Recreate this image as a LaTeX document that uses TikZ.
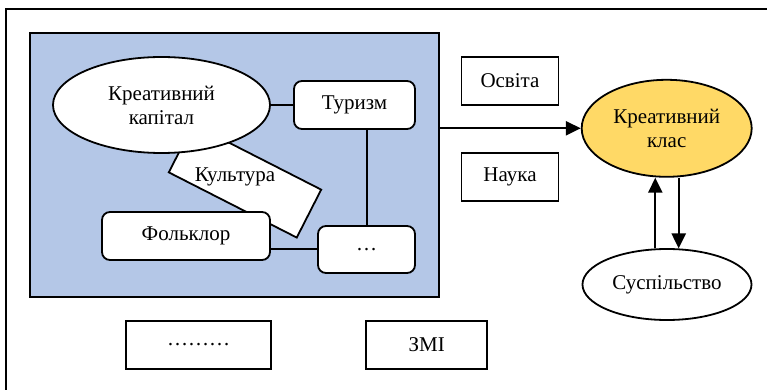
\documentclass[tikz,border=0pt]{standalone}
\usepackage{fontspec}
\setmainfont{Liberation Serif}
\usepackage{xcolor}
\usetikzlibrary{shapes,arrows.meta,positioning}

\definecolor{clusterblue}{HTML}{B4C7E7}
\definecolor{classgold}{HTML}{FFD966}

\begin{document}
\begin{tikzpicture}[
    x=0.5pt, y=-0.5pt,
    font=\rmfamily\fontsize{10.5}{12}\selectfont,
    box/.style={draw, rectangle, fill=white, line width=0.9pt, minimum width=48.5pt, minimum height=24pt, align=center},
    rbox/.style={box, rounded corners=4pt},
    oval/.style={draw, ellipse, fill=white, line width=0.9pt, inner sep=0pt, align=center},
    link/.style={line width=1pt},
    arrow/.style={-{Triangle[length=7.5pt,width=7pt]}, line width=1.2pt}
]
\useasboundingbox (0,0) rectangle (767,390);
\clip (0,0) rectangle (767,390);

% outer frame, runs past the right and bottom edges
\draw[line width=1pt] (6,9) rectangle (800,420);

% creative capital cluster
\node[draw, fill=clusterblue, line width=0.9pt, inner sep=0pt, minimum width=204.5pt, minimum height=132pt] (cluster) at (234.5,165) {};

\node[box, rotate=-27, minimum width=71.8pt, minimum height=26.9pt] (cult) at (245,181) {};
\node (cultlabel) at (235,177) {Культура};

\node[oval, minimum width=108.5pt, minimum height=48pt] (kap) at (161.5,105) {Креативний\\капітал};
\node[rbox, minimum width=60.5pt] (tour) at (354.5,105) {Туризм};
\node[rbox, minimum width=84pt] (folk) at (186,236) {Фольклор};
\node[rbox, minimum height=23.5pt] (dots) at (366.5,249.5) {…};

\draw[link] (kap) -- (tour);
\draw[link] (dots.north) -- (dots.north |- tour.south);
\draw[link] (dots.west) -- (dots.west -| folk.east);

% education and science
\node[box] (osvita) at (510,81) {Освіта};
\node[box] (nauka) at (510,177) {Наука};

% creative class and society
\node[oval, fill=classgold, minimum width=85pt, minimum height=48.5pt] (klas) at (666.7,128.3) {Креативний\\клас};
\node[oval, minimum width=84.5pt, minimum height=35.5pt] (susp) at (667,284.5) {Суспільство};

\draw[arrow] (cluster.east |- klas.west) -- (klas.west);
\draw[arrow] (susp.108) -- (susp.108 |- klas.south);
\draw[arrow] (klas.south -| susp.72) -- (susp.72);

% bottom row
\node[box, minimum width=72.5pt] (etc) at (198.5,345) {………};
\node[box, minimum width=60.5pt] (zmi) at (426.7,345) {ЗМІ};

\end{tikzpicture}
\end{document}
